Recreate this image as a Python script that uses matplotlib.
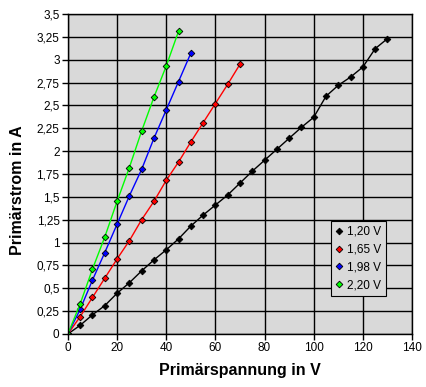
import matplotlib
matplotlib.use('Agg')
import matplotlib.pyplot as plt
from matplotlib.ticker import MultipleLocator, FuncFormatter

plt.rcParams['font.family'] = ['Liberation Sans', 'DejaVu Sans']

# Messwerte
u_120 = [0, 5, 10, 15, 20, 25, 30, 35, 40, 45, 50, 55, 60, 65, 70, 75, 80,
         85, 90, 95, 100, 105, 110, 115, 120, 125, 130]
i_120 = [0, 0.095, 0.21, 0.31, 0.445, 0.56, 0.69, 0.81, 0.92, 1.04, 1.18,
         1.30, 1.41, 1.52, 1.65, 1.78, 1.90, 2.02, 2.14, 2.26, 2.37, 2.60,
         2.72, 2.81, 2.92, 3.12, 3.23]
u_165 = [0, 5, 10, 15, 20, 25, 30, 35, 40, 45, 50, 55, 60, 65, 70]
i_165 = [0, 0.19, 0.40, 0.61, 0.82, 1.02, 1.25, 1.45, 1.68, 1.88, 2.10,
         2.31, 2.52, 2.73, 2.95]
u_198 = [0, 5, 10, 15, 20, 25, 30, 35, 40, 45, 50]
i_198 = [0, 0.27, 0.59, 0.89, 1.20, 1.51, 1.80, 2.14, 2.45, 2.76, 3.07]
u_220 = [0, 5, 10, 15, 20, 25, 30, 35, 40, 45]
i_220 = [0, 0.33, 0.71, 1.06, 1.45, 1.82, 2.22, 2.59, 2.93, 3.31]

series = [
    (u_120, i_120, 'black', '1,20 V'),
    (u_165, i_165, 'red', '1,65 V'),
    (u_198, i_198, 'blue', '1,98 V'),
    (u_220, i_220, '#00ff00', '2,20 V'),
]

fig = plt.figure(figsize=(4.27, 3.87), dpi=100)
ax = fig.add_axes([0.159, 0.137, 0.806, 0.827])
ax.set_facecolor('#d9d9d9')

for u, i, c, lab in series:
    ax.plot(u, i, color=c, lw=1, marker='D', ms=3.4, mfc=c, mec='black',
            mew=0.6, label=lab)

ax.set_xlim(0, 140)
ax.set_ylim(0, 3.5)
ax.xaxis.set_major_locator(MultipleLocator(20))
ax.yaxis.set_major_locator(MultipleLocator(0.25))
ax.yaxis.set_major_formatter(FuncFormatter(lambda v, p: ('%g' % v).replace('.', ',')))
ax.grid(True, color='black', lw=1)
ax.set_axisbelow(True)
ax.tick_params(direction='out', length=4, width=1, labelsize=8.5, pad=2)
for s in ax.spines.values():
    s.set_linewidth(1)
    s.set_color('black')

ax.set_xlabel('Primärspannung in V', fontsize=11.5, fontweight='bold', labelpad=6)
ax.set_ylabel('Primärstrom in A', fontsize=11.5, fontweight='bold')
ax.yaxis.set_label_coords(-0.125, 0.45)

leg = ax.legend(loc='lower right', bbox_to_anchor=(0.925, 0.118),
                handlelength=0.6, handletextpad=0.4, fontsize=8.5,
                frameon=True, fancybox=False, borderpad=0.4, labelspacing=0.5,
                borderaxespad=0)
for h in leg.legend_handles:
    h.set_linestyle('none')
leg.get_frame().set_facecolor('#d9d9d9')
leg.get_frame().set_edgecolor('black')
leg.get_frame().set_linewidth(0.8)
leg.get_frame().set_alpha(1)

fig.savefig('out.png', dpi=100)
